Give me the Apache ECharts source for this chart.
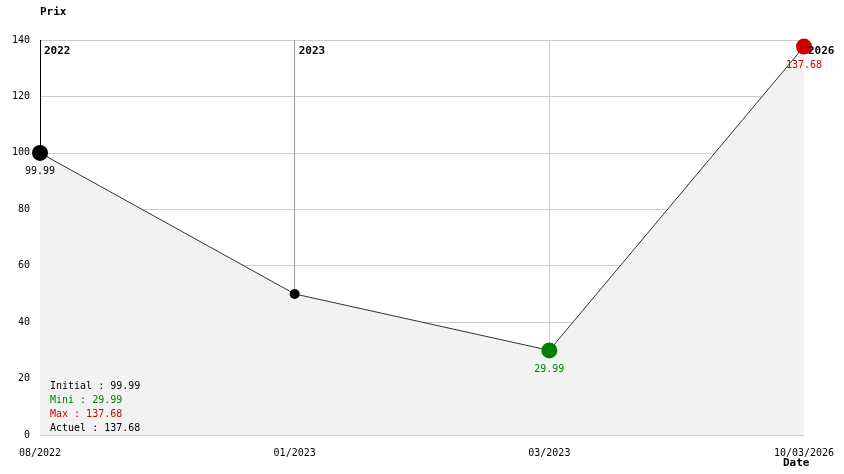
<!DOCTYPE html>
<html>
<head>
<meta charset="utf-8">
<script src="https://cdn.jsdelivr.net/npm/echarts@6/dist/echarts.min.js"></script>
<style>
  html, body { margin: 0; padding: 0; background: #fff; }
  #chart { width: 844px; height: 474px; }
</style>
</head>
<body>
<div id="chart"></div>
<script>
const dates = ['08/2022', '01/2023', '03/2023', '10/03/2026'];
const prices = [99.99, 50, 29.99, 137.68];
const years = ['2022', '2023', '', '2026'];
const pointColors = ['#000000', '#000000', '#008000', '#cc0000'];
const pointSizes = [16, 10, 16, 16];
const dropColors = ['#000000', '#999999', '#cccccc', '#cccccc'];
const statLabels = ['Initial : 99.99', 'Mini : 29.99', 'Max : 137.68', 'Actuel : 137.68'];
const statColors = ['#000000', '#008000', '#cc0000', '#000000'];

const font = '"DejaVu Sans Mono", monospace';
const yMax = 140;

const chart = echarts.init(document.getElementById('chart'));

const points = prices.map((v, i) => ({
  value: v,
  symbolSize: pointSizes[i],
  itemStyle: { color: pointColors[i] },
  label: {
    show: i !== 1,
    position: 'bottom',
    distance: 6,
    color: i === 0 ? '#000' : pointColors[i],
    fontFamily: font,
    fontSize: 10,
    formatter: v.toFixed(2)
  }
}));

// vertical line from the top of the plot down to each point
const dropLines = prices.map((v, i) => [
  { coord: [i, yMax], lineStyle: { color: dropColors[i], width: 1, type: 'solid' } },
  { coord: [i, v] }
]);

const yearMarks = years
  .map((y, i) => ({ y, i }))
  .filter(d => d.y)
  .map(d => ({
    coord: [d.i, d.i === 3 ? prices[3] : yMax],
    symbol: 'circle',
    symbolSize: 0,
    label: {
      show: true,
      position: 'right',
      distance: 4,
      offset: d.i === 3 ? [0, 5] : [0, 11],
      formatter: d.y,
      color: '#000',
      fontWeight: 'bold',
      fontFamily: font,
      fontSize: 11
    }
  }));

chart.setOption({
  animation: false,
  backgroundColor: '#fff',
  textStyle: { fontFamily: font },
  grid: { left: 40, right: 40, top: 40, bottom: 39 },
  xAxis: {
    type: 'category',
    data: dates,
    boundaryGap: false,
    axisLine: { show: false },
    axisTick: { show: false },
    splitLine: { show: false },
    axisLabel: { color: '#000', fontFamily: font, fontSize: 10, margin: 13 }
  },
  yAxis: {
    type: 'value',
    min: 0,
    max: yMax,
    interval: 20,
    axisLine: { show: false },
    axisTick: { show: false },
    splitLine: { lineStyle: { color: '#cccccc', width: 1 } },
    axisLabel: { color: '#000', fontFamily: font, fontSize: 10, margin: 10 }
  },
  graphic: [
    { type: 'text', left: 40, top: 7, style: { text: 'Prix', font: 'bold 11px ' + font, fill: '#000' } },
    { type: 'text', left: 783, top: 458, style: { text: 'Date', font: 'bold 11px ' + font, fill: '#000' } },
    ...statLabels.map((t, i) => ({
      type: 'text',
      left: 50,
      top: 381 + i * 14,
      z: 10,
      style: { text: t, font: '10px ' + font, fill: statColors[i] }
    }))
  ],
  series: [
    {
      type: 'line',
      data: points,
      symbol: 'circle',
      lineStyle: { color: '#333333', width: 1 },
      areaStyle: { color: '#f2f2f2', opacity: 1 },
      z: 3,
      markLine: {
        silent: true,
        symbol: 'none',
        label: { show: false },
        data: dropLines,
        z: 1
      },
      markPoint: {
        silent: true,
        data: yearMarks
      }
    }
  ]
});
</script>
</body>
</html>
